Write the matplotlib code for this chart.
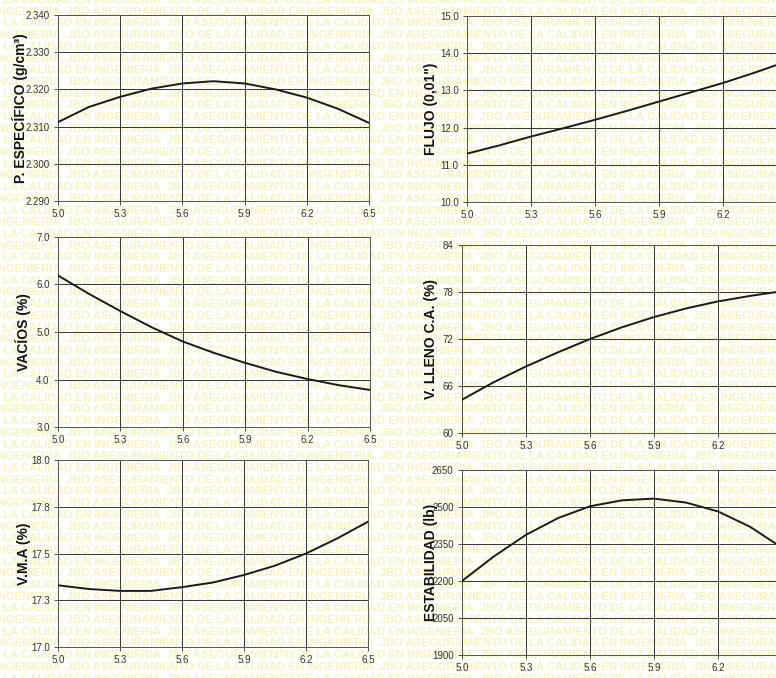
import matplotlib
matplotlib.use("Agg")
import matplotlib.pyplot as plt
from matplotlib.ticker import FixedLocator, FixedFormatter

plt.rcParams['font.family'] = ['Liberation Sans', 'DejaVu Sans']

# x values: asphalt content (%)
x = [5.0, 5.15, 5.3, 5.45, 5.6, 5.75, 5.9, 6.05, 6.2, 6.35, 6.5]
x_ticks = [5.0, 5.3, 5.6, 5.9, 6.2, 6.5]
x_ticklabels = ["5.0", "5.3", "5.6", "5.9", "6.2", "6.5"]

p_especifico = [2.3112, 2.3153, 2.3180, 2.3202, 2.3216, 2.3222, 2.3216, 2.3200, 2.3178, 2.3148, 2.3110]
flujo = [11.30, 11.52, 11.76, 11.98, 12.21, 12.45, 12.70, 12.95, 13.20, 13.48, 13.78]
vacios = [6.19, 5.80, 5.44, 5.10, 4.80, 4.56, 4.35, 4.16, 4.01, 3.88, 3.78]
v_lleno = [64.25, 66.5, 68.5, 70.3, 72.0, 73.5, 74.8, 75.9, 76.8, 77.5, 78.1]
vma = [17.33, 17.31, 17.30, 17.30, 17.32, 17.345, 17.385, 17.435, 17.50, 17.58, 17.67]
estabilidad = [2200, 2300, 2387, 2455, 2503, 2527, 2534, 2518, 2482, 2420, 2335]

W, H = 776, 678
panels = [
    dict(y=p_especifico, label="P. ESPECÍFICO (g/cm³)",
         yticks=[2.290, 2.300, 2.310, 2.320, 2.330, 2.340],
         ylabels=["2.290", "2.300", "2.310", "2.320", "2.330", "2.340"],
         px=(58, 15, 311, 186), lx=22),
    dict(y=flujo, label="FLUJO (0,01\")",
         yticks=[10, 11, 12, 13, 14, 15],
         ylabels=["10.0", "11.0", "12.0", "13.0", "14.0", "15.0"],
         px=(467, 16, 320, 186), lx=432),
    dict(y=vacios, label="VACÍOS (%)",
         yticks=[3, 4, 5, 6, 7],
         ylabels=["3.0", "4.0", "5.0", "6.0", "7.0"],
         px=(58, 237, 312, 190), lx=25),
    dict(y=v_lleno, label="V. LLENO C.A. (%)",
         yticks=[60, 66, 72, 78, 84],
         ylabels=["60", "66", "72", "78", "84"],
         px=(462, 245, 320, 188), lx=432),
    dict(y=vma, label="V.M.A (%)",
         yticks=[17.0, 17.25, 17.5, 17.75, 18.0],
         ylabels=["17.0", "17.3", "17.5", "17.8", "18.0"],
         px=(58, 460, 310, 187), lx=25),
    dict(y=estabilidad, label="ESTABILIDAD (lb)",
         yticks=[1900, 2050, 2200, 2350, 2500, 2650],
         ylabels=["1900", "2050", "2200", "2350", "2500", "2650"],
         px=(462, 470, 320, 185), lx=432),
]

fig = plt.figure(figsize=(W / 100, H / 100), dpi=100)
fig.patch.set_facecolor("white")

# watermark
wm = "DE LA CALIDAD EN INGENIERIA  JBO ASEGURAMIENTO "
row_h = 11.7 / H
n_rows = int(1 / row_h) + 2
for i in range(n_rows):
    yy = 1 - i * row_h
    xoff = -0.02 - (i % 2) * 0.13
    fig.text(xoff, yy, wm * 3, color="#f7f3bf", fontsize=8.2, fontweight="bold",
             va="center", ha="left", zorder=-5)

for p in panels:
    l, t, w, h = p["px"]
    ax = fig.add_axes([l / W, 1 - (t + h) / H, w / W, h / H])
    ax.set_facecolor("none")
    ax.plot(x, p["y"], color="#1a1a1a", lw=1.4, zorder=3)
    ax.set_xlim(5.0, 6.5)
    ax.set_ylim(p["yticks"][0], p["yticks"][-1])
    ax.xaxis.set_major_locator(FixedLocator(x_ticks))
    ax.xaxis.set_major_formatter(FixedFormatter(x_ticklabels))
    ax.yaxis.set_major_locator(FixedLocator(p["yticks"]))
    ax.yaxis.set_major_formatter(FixedFormatter(p["ylabels"]))
    ax.grid(True, color="#333333", lw=0.7)
    ax.set_axisbelow(True)
    for s in ax.spines.values():
        s.set_color("#555555")
        s.set_linewidth(0.7)
    ax.tick_params(axis="both", labelsize=7, colors="#333333", length=3, width=0.6, pad=3)
    ax.set_ylabel(p["label"], fontsize=10, fontweight="bold", color="#111111")
    ax.yaxis.set_label_coords((p["lx"] + 6 - l) / w, 0.5)

fig.savefig("out.png", dpi=100)
